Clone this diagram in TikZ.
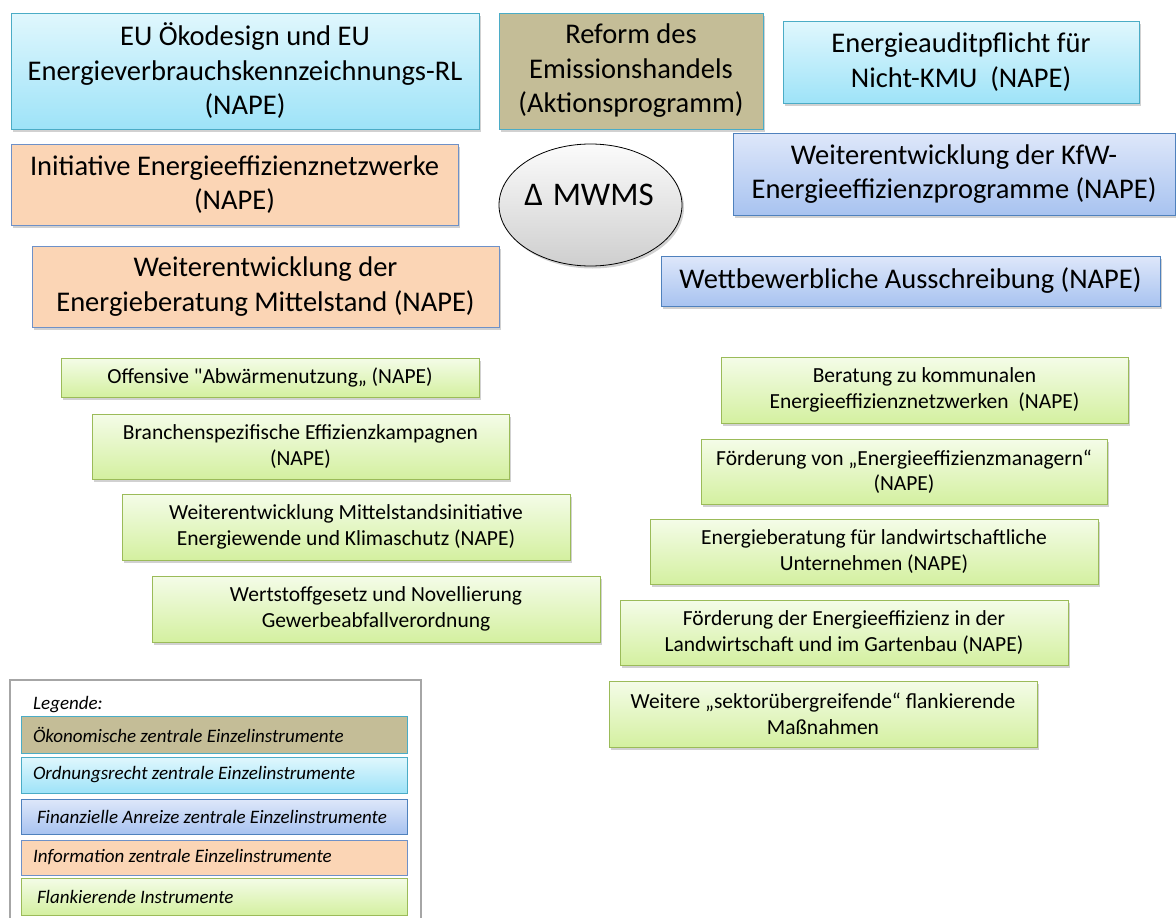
\documentclass[tikz,border=0pt]{standalone}
\usepackage{fontspec}
\setmainfont{Carlito}[Ligatures=TeXOff]
\usetikzlibrary{shapes.geometric, shadows}

\definecolor{cyanTop}{RGB}{224,247,253}
\definecolor{cyanBot}{RGB}{158,227,248}
\definecolor{cyanLine}{RGB}{75,172,198}
\definecolor{khaki}{RGB}{196,189,151}
\definecolor{peach}{RGB}{251,213,181}
\definecolor{peachLine}{RGB}{110,145,200}
\definecolor{blueTop}{RGB}{222,231,250}
\definecolor{blueBot}{RGB}{168,195,240}
\definecolor{blueLine}{RGB}{79,129,189}
\definecolor{greenTop}{RGB}{244,252,232}
\definecolor{greenBot}{RGB}{212,240,160}
\definecolor{greenLine}{RGB}{155,187,89}
\definecolor{legendGray}{RGB}{166,166,166}

\begin{document}
\begin{tikzpicture}[x=1pt, y=-1pt,
    shadowed/.style={drop shadow={shadow xshift=2pt, shadow yshift=-2.5pt, fill=black!45, opacity=0.4}},
    plainbox/.style={draw, rectangle, line width=1pt, inner sep=2pt},
    box/.style={plainbox, align=flush center, shadowed},
    ordnung/.style={draw=cyanLine, top color=cyanTop, bottom color=cyanBot},
    oekonom/.style={draw=cyanLine, fill=khaki},
    finanz/.style={draw=blueLine, top color=blueTop, bottom color=blueBot},
    info/.style={draw=peachLine, fill=peach},
    flanke/.style={draw=greenLine, top color=greenTop, bottom color=greenBot},
    bigtext/.style={font=\fontsize{28.5}{34.5}\selectfont},
    smalltext/.style={font=\fontsize{21.5}{25.5}\selectfont},
    legrow/.style={plainbox, font=\fontsize{19}{22}\selectfont\itshape, align=flush left,
        text width=362pt, inner xsep=12pt, minimum height=36pt}]

    \useasboundingbox (0,0) rectangle (1176,918);

    % ==========================================
    % Zentrale Einzelinstrumente (top)
    % ==========================================
    \node[box, ordnung, bigtext, minimum width=468pt, minimum height=116pt] (eu) at (245,71)
        {EU Ökodesign und EU\\Energieverbrauchskennzeichnungs-RL\\(NAPE)};
    \node[box, oekonom, bigtext, minimum width=264pt, minimum height=116pt] (reform) at (631,71)
        {Reform des\\Emissionshandels\\(Aktionsprogramm)};
    \node[box, ordnung, bigtext, minimum width=356pt, minimum height=82pt] (audit) at (961,62)
        {Energieauditpflicht für\\Nicht-KMU~~(NAPE)};

    \node[box, info, bigtext, minimum width=447pt, minimum height=81pt] (netzwerke) at (234.5,184.5)
        {Initiative Energieeffizienznetzwerke\\(NAPE)};
    \node[box, info, bigtext, minimum width=467pt, minimum height=81pt] (mittelstand) at (265.5,286.5)
        {Weiterentwicklung der\\Energieberatung Mittelstand (NAPE)};

    \node[box, finanz, bigtext, minimum width=442pt, minimum height=82pt] (kfw) at (954,174)
        {Weiterentwicklung der KfW-\\Energieeffizienzprogramme (NAPE)};
    \node[box, finanz, bigtext, minimum width=499pt, minimum height=50pt] (ausschreibung) at (910.5,281)
        {Wettbewerbliche Ausschreibung (NAPE)};

    % Center ellipse
    \node[ellipse, draw=black, line width=0.8pt, top color=gray!3, bottom color=gray!38,
        minimum width=183pt, minimum height=122pt, shadowed] (mwms) at (590.5,205) {};
    \node[font=\fontsize{33}{38}\selectfont] (mwmslabel) at (589,195) {Δ\hspace{0.3em}MWMS};

    % ==========================================
    % Flankierende Instrumente (left column)
    % ==========================================
    \node[box, flanke, smalltext, minimum width=418pt, minimum height=39pt] (abwaerme) at (270,377.5)
        {Offensive "Abwärmenutzung„ (NAPE)};
    \node[box, flanke, smalltext, minimum width=417pt, minimum height=65pt] (branchen) at (300.5,446.5)
        {Branchenspezifische Effizienzkampagnen\\(NAPE)};
    \node[box, flanke, smalltext, minimum width=448pt, minimum height=66pt] (initiative) at (346,527)
        {Weiterentwicklung Mittelstandsinitiative\\Energiewende und Klimaschutz (NAPE)};
    \node[box, flanke, smalltext, minimum width=448pt, minimum height=66pt] (wertstoff) at (376,609)
        {Wertstoffgesetz und Novellierung\\Gewerbeabfallverordnung};

    % ==========================================
    % Flankierende Instrumente (right column)
    % ==========================================
    \node[box, flanke, smalltext, minimum width=407pt, minimum height=66pt] (kommunal) at (924.5,390)
        {Beratung zu kommunalen\\Energieeffizienznetzwerken~~(NAPE)};
    \node[box, flanke, smalltext, minimum width=406pt, minimum height=65pt] (manager) at (904,471.5)
        {Förderung von „Energieeffizienzmanagern“\\(NAPE)};
    \node[box, flanke, smalltext, minimum width=448pt, minimum height=65pt] (landwirt) at (874,551.5)
        {Energieberatung für landwirtschaftliche\\Unternehmen (NAPE)};
    \node[box, flanke, smalltext, minimum width=448pt, minimum height=65pt] (gartenbau) at (844,632.5)
        {Förderung der Energieeffizienz in der\\Landwirtschaft und im Gartenbau (NAPE)};
    \node[box, flanke, smalltext, minimum width=428pt, minimum height=66pt] (sektor) at (823,714)
        {Weitere „sektorübergreifende“ flankierende\\Maßnahmen};

    % ==========================================
    % Legende
    % ==========================================
    \draw[legendGray, line width=2pt, fill=white] (10,680) rectangle (421,919);
    \node[anchor=west, font=\fontsize{19}{22}\selectfont\itshape, inner sep=0pt] (legtitle) at (33,705) {Legende:};

    \node[legrow, oekonom, minimum height=37pt] (legoek) at (214,734.5) {Ökonomische zentrale Einzelinstrumente};
    \node[legrow, ordnung] (legord) at (214,775) {Ordnungsrecht zentrale Einzelinstrumente};
    \node[legrow, finanz, minimum height=35pt] (legfin) at (214,816.5) {\hspace{4pt}Finanzielle Anreize zentrale Einzelinstrumente};
    \node[legrow, info, minimum height=35pt] (leginf) at (214,857.5) {Information zentrale Einzelinstrumente};
    \node[legrow, flanke, minimum height=37pt] (legfla) at (214,896.5) {\hspace{4pt}Flankierende Instrumente};
\end{tikzpicture}
\end{document}
